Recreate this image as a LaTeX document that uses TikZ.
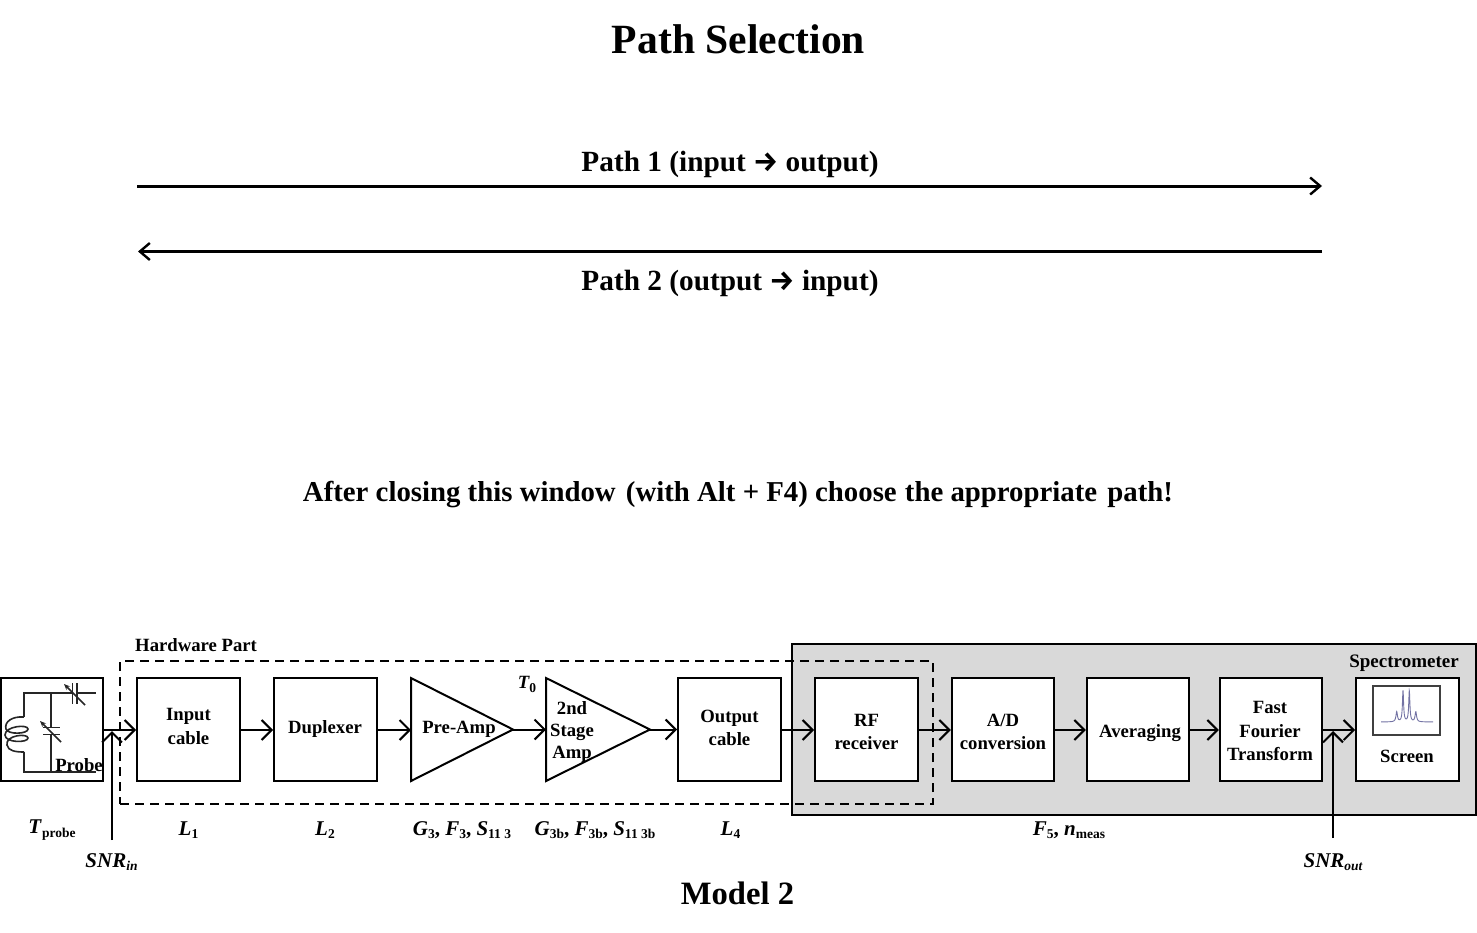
\documentclass[tikz,border=0pt]{standalone}
\usepackage{fontspec}
\setmainfont{Liberation Serif}
\newfontfamily\symfont{Fira Sans}
\usetikzlibrary{arrows.meta}
\newcommand{\lowsub}[1]{\raisebox{-3.5pt}{\fontsize{13.5}{13.5}\selectfont #1}}
\newcommand{\fsz}[1]{\fontsize{#1}{#1}\selectfont}
\tikzset{
 txt/.style={font=\bfseries\fsz{18.7},inner sep=0pt,align=center},
 mtxt/.style={font=\bfseries\fsz{21},inner sep=0pt,align=center},
 blockbox/.style={draw=black,fill=white,line width=2pt,minimum width=102.5pt,minimum height=103pt,inner sep=0pt,align=center},
 flow/.style={draw=black,line width=2pt,-{Straight Barb[length=10pt,width=20pt,line width=2pt]}},
 bigflow/.style={draw=black,line width=3pt,-{Straight Barb[length=10pt,width=17pt,line width=2.4pt]}},
 wire/.style={draw=black!85,line width=1.6pt},
 trim/.style={wire,-{Stealth[length=6pt,width=5pt]}},
 amp/.style={draw=black,fill=white,line width=2pt,line join=miter},
}
\begin{document}
\begin{tikzpicture}[x=1pt,y=-1pt]
\useasboundingbox (0,0) rectangle (1477,932);
\fill[white] (0,0) rectangle (1477,932);
% titles
\node[font=\bfseries\fsz{41.6},inner sep=0pt] (title) at (738.5,39.5) {Path Selection};
\node[font=\bfseries\fsz{29.3},inner sep=0pt] (p1) at (730,164) {Path 1 (input {\symfont\bfseries\fsz{28}→} output)};
\node[font=\bfseries\fsz{29.3},inner sep=0pt] (p2) at (730,283) {Path 2 (output {\symfont\bfseries\fsz{28}→} input)};
\coordinate (p1a) at (137,186); \coordinate (p1b) at (1322,186);
\coordinate (p2a) at (1322,251.5); \coordinate (p2b) at (138,251.5);
\draw[bigflow] (p1a) -- (p1b);
\draw[bigflow] (p2a) -- (p2b);
\node[font=\bfseries\fsz{28.8},inner sep=0pt] (note) at (738,494.5) {After closing this window\hspace{3pt} (with Alt + F4) choose\hspace{1pt} the appropriate\hspace{3pt} path!};
% regions
\node[draw=black,fill=black!15,line width=2pt,minimum width=684pt,minimum height=171pt,inner sep=0pt] (spec) at (1134,729.5) {};
\node[draw=black,line width=2pt,dash pattern=on 9pt off 6pt,minimum width=813pt,minimum height=143pt,inner sep=0pt] (hw) at (526.5,732.5) {};
\node[txt,font=\bfseries\fsz{18.7},anchor=west] (hwl) at (135,645.5) {Hardware Part};
\node[txt,font=\bfseries\fsz{19}] (specl) at (1404,663.5) {Spectrometer};
% blocks
\node[blockbox] (probe) at (52,729.5) {};
\node[blockbox] (inp) at (188.3,729.5) {};
\node[txt] at (188.5,726.5) {Input\\[4.5pt]cable};
\node[blockbox] (dup) at (325.3,729.5) {};
\node[txt] at (325,728.5) {Duplexer};
\node[blockbox] (out) at (729.3,729.5) {};
\node[txt] at (729.5,728) {Output\\[4.5pt]cable};
\node[blockbox] (rf) at (866.3,729.5) {};
\node[txt] at (866.5,732) {RF\\[4.5pt]receiver};
\node[blockbox] (ad) at (1003,729.5) {};
\node[txt] at (1003,732) {A/D\\[4.5pt]conversion};
\node[blockbox] (avg) at (1138,729.5) {};
\node[txt] at (1140,733) {Averaging};
\node[blockbox] (fft) at (1271,729.5) {};
\node[txt] at (1270,731) {Fast\\[4.5pt]Fourier\\[4.5pt]Transform};
\node[blockbox] (scr) at (1407.3,729.5) {};
\node[txt] (scrl) at (1407,756.5) {Screen};
% amplifiers
\coordinate (a1t) at (411,678); \coordinate (a1b) at (411,781); \coordinate (a1o) at (513,729.5);
\coordinate (a2t) at (546,678); \coordinate (a2b) at (546,781); \coordinate (a2o) at (650,729.5);
\draw[amp] (a1t) -- (a1o) -- (a1b) -- cycle;
\draw[amp] (a2t) -- (a2o) -- (a2b) -- cycle;
\node[txt] at (459,729.5) {Pre-Amp};
\node[txt] at (572,708) {2nd};
\node[txt] at (572,732) {Stage};
\node[txt] at (572,754) {Amp};
\node[txt,font=\bfseries\itshape\fsz{18.7}] (t0) at (527,684.5) {T\lowsub{\upshape 0}};
% probe circuit
\coordinate (c1) at (24,693); \coordinate (c2) at (96,693);
\coordinate (c3) at (24,772); \coordinate (c4) at (96,772);
\draw[wire] (24,717) -- (c1) -- (72.5,693);
\draw[wire] (77,693) -- (c2);
\draw[wire] (72.5,683) -- (72.5,704);
\draw[wire] (77,683) -- (77,704);
\draw[trim] (85,705) -- (64,684);
\draw[wire] (51,693) -- (51,727.5);
\draw[wire] (43,727.5) -- (60,727.5);
\draw[wire] (43,734.5) -- (60,734.5);
\draw[wire] (51,734.5) -- (51,772);
\draw[trim] (61,742) -- (40,721);
\draw[wire] (24,752) -- (c3) -- (c4);
\draw[wire] (24,717) .. controls (12,716) and (4,722) .. (6,729)
  .. controls (8,735) and (28,734) .. (28,729)
  .. controls (28,724) and (5,726) .. (5,735)
  .. controls (5,743) and (28,743) .. (28,738)
  .. controls (28,733) and (5,735) .. (7,745)
  .. controls (8,751) and (16,752) .. (24,752);
\node[txt,font=\bfseries\fsz{18.7}] (probel) at (79,765) {Probe};
% screen glyph
\draw[draw=black!75,line width=1.2pt,fill=white] (1373,686) rectangle (1440,735);
\draw[color=blue!35!black!55,line width=0.9pt]
 plot[smooth,domain=1381:1433,samples=220,variable=\t]
 ({\t},{722-10/(1+((\t-1396.7)/0.9)^2)-31/(1+((\t-1403)/0.7)^2)-31/(1+((\t-1409.3)/0.7)^2)-10/(1+((\t-1415.8)/0.9)^2)});
% connectors
\draw[flow] (probe.east |- 0,730) -- (inp.west |- 0,730);
\draw[flow] (inp.east |- 0,730) -- (dup.west |- 0,730);
\draw[flow] (dup.east |- 0,730) -- (a1t |- 0,730);
\draw[flow] (a1o) -- (a2t |- a1o);
\draw[flow] (a2o) -- (out.west |- a2o);
\draw[flow] (out.east |- 0,730) -- (rf.west |- 0,730);
\draw[flow] (rf.east |- 0,730) -- (ad.west |- 0,730);
\draw[flow] (ad.east |- 0,730) -- (avg.west |- 0,730);
\draw[flow] (avg.east |- 0,730) -- (fft.west |- 0,730);
\draw[flow] (fft.east |- 0,730) -- (scr.west |- 0,730);
\coordinate (sin) at (112,840); \coordinate (sint) at (112,731);
\coordinate (sout) at (1333,838); \coordinate (soutt) at (1333,731);
\draw[flow] (sin) -- (sint);
\draw[flow] (sout) -- (soutt);
% labels
\node[mtxt] at (52,830) {\textit{T}\lowsub{probe}};
\node[txt,font=\bfseries\itshape\fsz{21}] at (111.5,862) {SNR\lowsub{in}};
\node[mtxt] at (188.5,830) {\textit{L}\lowsub{1}};
\node[mtxt] at (325,830) {\textit{L}\lowsub{2}};
\node[mtxt] at (462,830) {\textit{G}\lowsub{3}, \textit{F}\lowsub{3}, \textit{S}\lowsub{11 3}};
\node[mtxt] at (595,830) {\textit{G}\lowsub{3b}, \textit{F}\lowsub{3b}, \textit{S}\lowsub{11 3b}};
\node[mtxt] at (730.5,830) {\textit{L}\lowsub{4}};
\node[mtxt] at (1069,830) {\textit{F}\lowsub{5}, \textit{n}\lowsub{meas}};
\node[txt,font=\bfseries\itshape\fsz{21}] at (1333,862) {SNR\lowsub{out}};
\node[font=\bfseries\fsz{32.6},inner sep=0pt] (model) at (737.5,893.5) {Model 2};
\end{tikzpicture}
\end{document}
